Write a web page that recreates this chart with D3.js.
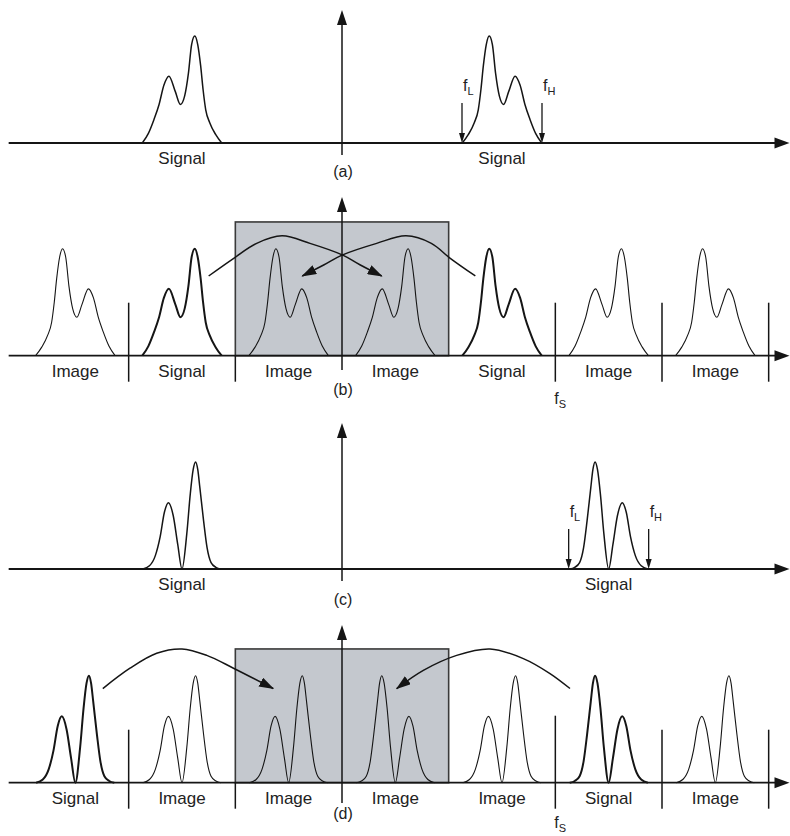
<!DOCTYPE html>
<html>
<head>
<meta charset="utf-8">
<script src="https://cdn.jsdelivr.net/npm/d3@7"></script>
<style>
  body { margin: 0; background: #fff; }
  svg text { font-family: "Liberation Sans", Arial, sans-serif; fill: #222; }
</style>
</head>
<body>
<div id="chart"></div>
<script>
'use strict';

// frequency in arbitrary units: sampling rate fs = 8, signal band 3 wide
var fs = 8;
var bandA = [4.5, 7.5];    // fL, fH in (a)
var bandC = [8.5, 11.5];   // fL, fH in (c)

// spectrum outlines: [offset from band centre, amplitude]
var wideShape = [
	[-1.49, 0], [-1.26, 0.08], [-1.04, 0.19], [-0.89, 0.31], [-0.79, 0.50], [-0.70, 0.72],
	[-0.59, 0.92], [-0.48, 1.0], [-0.36, 0.92], [-0.24, 0.65], [-0.10, 0.44], [0.06, 0.36],
	[0.25, 0.48], [0.49, 0.625], [0.68, 0.54], [0.86, 0.36], [1.05, 0.22], [1.26, 0.09], [1.49, 0]
];
var narrowShape = [
	[-1.46, 0], [-1.27, 0.016], [-1.09, 0.06], [-0.94, 0.20], [-0.81, 0.45], [-0.67, 0.76],
	[-0.59, 0.93], [-0.51, 1.0], [-0.42, 0.93], [-0.31, 0.70], [-0.18, 0.33], [0.0, 0],
	[0.16, 0.23], [0.33, 0.50], [0.51, 0.62], [0.66, 0.53], [0.82, 0.30], [1.0, 0.125],
	[1.22, 0.03], [1.47, 0]
];

// (a) and (c): the signal and its negative-frequency mirror
var centresA = [-6, 6];
var flipsA = [true, false];
var centresC = [-6, 10];
var flipsC = [true, false];

// (b) and (d): one zone of width fs/2 each
var zoneCentres = [-10, -6, -2, 2, 6, 10, 14];
var zoneLabelsB = ['Image', 'Signal', 'Image', 'Image', 'Signal', 'Image', 'Image'];
var zoneFlipsB = [false, true, false, true, false, true, false];
var zoneLabelsD = ['Signal', 'Image', 'Image', 'Image', 'Image', 'Signal', 'Image'];
var zoneFlipsD = [true, true, true, false, true, false, true];

// folding arrows: [frequency, height]
var arcsB = [
	[[-5.0, 0.745], [-4.06, 0.91], [-3.2, 1.05], [-2.25, 1.12], [-1.2, 1.05], [0.03, 0.94], [0.67, 0.85], [1.49, 0.745]],
	[[5.0, 0.745], [4.06, 0.91], [3.35, 1.05], [2.4, 1.12], [1.3, 1.05], [0.0, 0.94], [-0.67, 0.85], [-1.49, 0.745]]
];
var arcsD = [
	[[-8.97, 0.88], [-7.95, 1.07], [-6.95, 1.21], [-6.0, 1.25], [-5.07, 1.19], [-4.07, 1.07], [-2.58, 0.88]],
	[[8.55, 0.88], [7.8, 1.02], [6.8, 1.16], [5.55, 1.25], [4.3, 1.19], [3.05, 1.05], [2.05, 0.88]]
];
var boxHeight = 1.25;
var panelNames = ['(a)', '(b)', '(c)', '(d)'];

// layout
var width = 790, height = 836;
var panels = [
	{axisY: 143, top: 10, bottom: 155},
	{axisY: 355.7, top: 197, bottom: 370},
	{axisY: 569, top: 423, bottom: 581},
	{axisY: 782.7, top: 625, bottom: 803}
];
var ink = '#151515';

var svg = d3.select('#chart').append('svg')
	.attr('width', width)
	.attr('height', height);

var x = d3.scaleLinear().domain([0, 2 * fs]).range([342, 342 + 16 * 80 / 3]);

svg.append('defs').append('marker')
	.attr('id', 'tip')
	.attr('markerUnits', 'userSpaceOnUse')
	.attr('viewBox', '0 0 15 10')
	.attr('refX', 14).attr('refY', 5)
	.attr('markerWidth', 15).attr('markerHeight', 10)
	.attr('orient', 'auto')
	.append('path')
	.attr('d', 'M0,0 L15,5 L0,10 Z')
	.attr('fill', ink);

function arrowHead(g, tx, ty, angle, len, wid) {
	// filled triangle with its tip at (tx, ty), pointing along angle (radians)
	var c = Math.cos(angle), s = Math.sin(angle);
	var bx = tx - c * len, by = ty - s * len;
	var pts = [[tx, ty], [bx - s * wid / 2, by + c * wid / 2], [bx + s * wid / 2, by - c * wid / 2]];
	g.append('path').attr('d', 'M' + pts.join('L') + 'Z').attr('fill', ink);
}

function drawPanel(i, opts) {
	var p = panels[i];
	var g = svg.append('g');
	var y = d3.scaleLinear().domain([0, 1]).range([p.axisY, p.axisY - 107]);

	var outline = d3.line()
		.x(function (d) { return x(d[0]); })
		.y(function (d) { return y(d[1]); })
		.curve(d3.curveMonotoneX);

	var arcLine = d3.line()
		.x(function (d) { return x(d[0]); })
		.y(function (d) { return y(d[1]); })
		.curve(d3.curveCatmullRom.alpha(0.5));

	// Nyquist zone box and zone separators
	if (opts.zones) {
		g.append('rect')
			.attr('x', x(-fs / 2))
			.attr('y', y(boxHeight))
			.attr('width', x(fs / 2) - x(-fs / 2))
			.attr('height', y(0) - y(boxHeight))
			.attr('fill', '#c4c8ce')
			.attr('stroke', '#3a3a3a')
			.attr('stroke-width', 1.6);

		[-2, -1, 2, 3, 4].forEach(function (k) {
			var top = p.axisY - 53;
			if (k === -1) top = p.axisY;
			if (k === 2 && opts.tallFs) top = p.axisY - 67;
			g.append('line')
				.attr('x1', x(k * fs / 2)).attr('x2', x(k * fs / 2))
				.attr('y1', top).attr('y2', p.axisY + 26)
				.attr('stroke', ink).attr('stroke-width', 1.5);
		});
	}

	// frequency axis
	g.append('line')
		.attr('x1', x(-12.5)).attr('x2', x(16.3))
		.attr('y1', p.axisY).attr('y2', p.axisY)
		.attr('stroke', ink).attr('stroke-width', 1.8);
	arrowHead(g, 789.5, p.axisY, 0, 15, 11);

	// amplitude axis
	g.append('line')
		.attr('x1', x(0)).attr('x2', x(0))
		.attr('y1', p.bottom).attr('y2', p.top + 10)
		.attr('stroke', ink).attr('stroke-width', 1.5);
	arrowHead(g, x(0), p.top, -Math.PI / 2, 15, 10);

	// spectra
	opts.centres.forEach(function (c, j) {
		var flip = opts.flips[j];
		var pts = opts.shape.map(function (d) { return [c + (flip ? -d[0] : d[0]), d[1]]; });
		if (flip) pts.reverse();
		var isSignal = opts.labels[j] === 'Signal';
		g.append('path')
			.attr('d', outline(pts))
			.attr('fill', 'none')
			.attr('stroke', ink)
			.attr('stroke-width', isSignal ? opts.signalWidth : 1.1)
			.attr('stroke-linejoin', 'round');

		g.append('text')
			.attr('x', x(c))
			.attr('y', p.axisY + 21)
			.attr('text-anchor', 'middle')
			.attr('font-size', 17)
			.text(opts.labels[j]);
	});

	// band edges fL / fH
	if (opts.band) {
		opts.band.forEach(function (f, j) {
			g.append('line')
				.attr('x1', x(f)).attr('x2', x(f))
				.attr('y1', p.axisY - 40).attr('y2', p.axisY - 8)
				.attr('stroke', ink).attr('stroke-width', 1.3);
			arrowHead(g, x(f), p.axisY, Math.PI / 2, 10, 6);
			var t = g.append('text')
				.attr('x', x(f) + 1)
				.attr('y', p.axisY - 52)
				.attr('font-size', 16)
				.text('f');
			t.append('tspan')
				.attr('dy', 4)
				.attr('font-size', 11)
				.text(j === 0 ? 'L' : 'H');
		});
	}

	// fs marker
	if (opts.zones) {
		var t = g.append('text')
			.attr('x', x(fs) - 1)
			.attr('y', p.axisY + opts.fsLabelDy)
			.attr('font-size', 16)
			.text('f');
		t.append('tspan')
			.attr('dy', 4)
			.attr('font-size', 11)
			.text('S');
	}

	// folding arrows
	if (opts.arcs) {
		opts.arcs.forEach(function (a) {
			g.append('path')
				.attr('d', arcLine(a))
				.attr('fill', 'none')
				.attr('stroke', ink)
				.attr('stroke-width', 1.5)
				.attr('marker-end', 'url(#tip)');
		});
	}

	g.append('text')
		.attr('x', x(0) + 1)
		.attr('y', p.axisY + opts.nameDy)
		.attr('text-anchor', 'middle')
		.attr('font-size', 16)
		.text(panelNames[i]);
}

drawPanel(0, {shape: wideShape, centres: centresA, flips: flipsA,
	labels: ['Signal', 'Signal'], band: bandA, signalWidth: 1.5, nameDy: 34});
drawPanel(1, {shape: wideShape, centres: zoneCentres, flips: zoneFlipsB,
	labels: zoneLabelsB, zones: true, arcs: arcsB, signalWidth: 2, nameDy: 39, fsLabelDy: 48});
drawPanel(2, {shape: narrowShape, centres: centresC, flips: flipsC,
	labels: ['Signal', 'Signal'], band: bandC, signalWidth: 1.5, nameDy: 36});
drawPanel(3, {shape: narrowShape, centres: zoneCentres, flips: zoneFlipsD,
	labels: zoneLabelsD, zones: true, arcs: arcsD, tallFs: true, signalWidth: 2, nameDy: 36, fsLabelDy: 45});
</script>
</body>
</html>
